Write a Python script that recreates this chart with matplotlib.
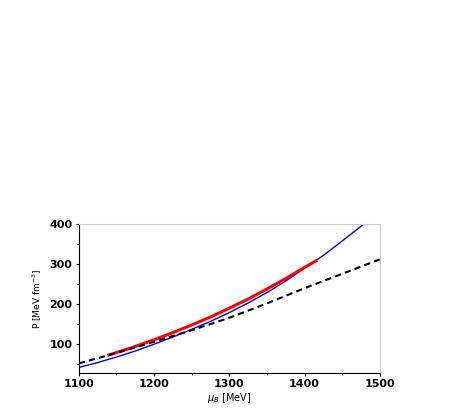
import matplotlib
matplotlib.use("Agg")
import matplotlib.pyplot as plt
import numpy as np

blue_x = [1100, 1125, 1150, 1175, 1200, 1225, 1250, 1275, 1300, 1325, 1350, 1375, 1400, 1425, 1450, 1480]
blue_y = [42, 54, 68, 83, 100, 118, 137, 157, 179, 203, 229, 258, 290, 322, 358, 402]
red_x = [1140, 1170, 1200, 1225, 1250, 1275, 1300, 1325, 1350, 1375, 1400, 1415]
red_y = [73, 91, 111, 129, 148, 168, 190, 213, 238, 264, 292, 308]
dash_x = [1100, 1150, 1200, 1250, 1300, 1350, 1400, 1450, 1500]
dash_y = [52, 78, 106, 135, 166, 202, 240, 276, 312]

fig = plt.figure(figsize=(4.69, 4.09), dpi=100)
ax = fig.add_axes([0.168, 0.088, 0.642, 0.364])
ax.plot(blue_x, blue_y, color="blue", lw=1)
ax.plot(red_x, red_y, color="red", lw=2.2)
ax.plot(dash_x, dash_y, color="black", lw=1.5, ls=(0, (3, 2)))
ax.set_xlim(1100, 1500)
ax.set_ylim(28, 400)
ax.set_xticks([1100, 1200, 1300, 1400, 1500])
ax.set_xticks(np.arange(1150, 1500, 100), minor=True)
ax.set_yticks([100, 200, 300, 400])
ax.set_yticks(np.arange(50, 400, 50), minor=True)
for s in ["top", "right"]:
    ax.spines[s].set_color("#cccccc")
ax.tick_params(labelsize=8, length=2.5, width=0.8, pad=2)
ax.tick_params(which="minor", length=1.5)
for lbl in ax.get_xticklabels() + ax.get_yticklabels():
    lbl.set_fontweight("bold")
ax.set_xlabel(r"$\mu_B$ [MeV]", fontsize=7, labelpad=1)
ax.set_ylabel(r"P [MeV fm$^{-3}$]", fontsize=6.5, labelpad=4)
fig.savefig("out.png", dpi=100)
